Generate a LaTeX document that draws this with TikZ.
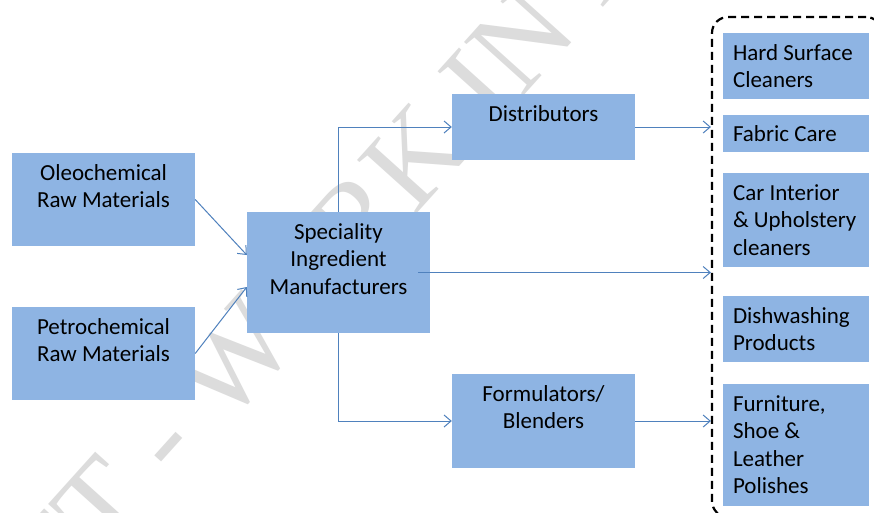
\documentclass[tikz,border=0pt]{standalone}
\usepackage{fontspec}
\setmainfont{Carlito}
\newfontfamily\wmfont{Liberation Serif}
\usetikzlibrary{arrows.meta}
\definecolor{boxfill}{HTML}{8EB4E3}
\definecolor{linkblue}{HTML}{4F81BD}
\definecolor{wmgray}{HTML}{DCDCDC}
\newcommand{\firststrut}{\rule{0pt}{20pt}}
\begin{document}
\begin{tikzpicture}[x=1pt,y=-1pt,
  bluebox/.style 2 args={fill=boxfill, draw=none, inner sep=0pt, minimum width=#1, minimum height=#2},
  lbl/.style={inner sep=0pt, font=\fontsize{23}{27.6}\selectfont, text=black},
  ctr/.style={lbl, align=center, anchor=north},
  lft/.style={lbl, align=left, anchor=north west},
  link/.style={draw=linkblue, line width=1pt, -{Straight Barb[length=7pt,width=12pt]}},
  wm/.style={inner sep=0pt, text=wmgray, font=\wmfont\fontsize{122}{130}\selectfont},
  grpbox/.style={draw=black, line width=2.2pt, dash pattern=on 8pt off 5pt, rounded corners=16pt, inner sep=0pt, minimum width=170pt, minimum height=500pt}
]
\useasboundingbox (0,0) rectangle (874,512);
\clip (0,0) rectangle (874,512);
\fill[white] (0,0) rectangle (874,512);

% watermark
\node[wm, rotate=48] (wmark) at (422,150) {DRAFT - WORK IN PROGRESS};

% boxes
\node[bluebox={183pt}{93pt}] (oleo) at (103.5,199.5) {};
\node[bluebox={183pt}{93pt}] (petro) at (103.5,353.5) {};
\node[bluebox={183pt}{121pt}] (spec) at (338.5,272.5) {};
\node[bluebox={183pt}{66pt}] (dist) at (543.5,127) {};
\node[bluebox={183pt}{94pt}] (form) at (543.5,421) {};
\node[bluebox={146pt}{66pt}] (hard) at (796,66) {};
\node[bluebox={146pt}{37pt}] (fab) at (796,133.5) {};
\node[bluebox={146pt}{94pt}] (car) at (796,220) {};
\node[bluebox={146pt}{66pt}] (dish) at (796,329) {};
\node[bluebox={146pt}{122pt}] (furn) at (796,445) {};

% texts
\node[ctr] (t-oleo) at ([yshift=-7pt]oleo.north) {\firststrut Oleochemical\\Raw Materials};
\node[ctr] (t-petro) at ([yshift=-7pt]petro.north) {\firststrut Petrochemical\\Raw Materials};
\node[ctr] (t-spec) at ([yshift=-7pt]spec.north) {\firststrut Speciality\\Ingredient\\Manufacturers};
\node[ctr] (t-dist) at ([yshift=-7pt]dist.north) {\firststrut Distributors};
\node[ctr] (t-form) at ([yshift=-7pt]form.north) {\firststrut Formulators/\\Blenders};
\node[lft] (t-hard) at ([xshift=10pt,yshift=-7pt]hard.north west) {\firststrut Hard Surface\\Cleaners};
\node[lft] (t-fab) at ([xshift=10pt,yshift=-6pt]fab.north west) {\firststrut Fabric Care};
\node[lft] (t-car) at ([xshift=10pt,yshift=-7pt]car.north west) {\firststrut Car Interior\\\&~Upholstery\\cleaners};
\node[lft] (t-dish) at ([xshift=10pt,yshift=-7pt]dish.north west) {\firststrut Dishwashing\\Products};
\node[lft] (t-furn) at ([xshift=10pt,yshift=-7pt]furn.north west) {\firststrut Furniture,\\Shoe \&\\Leather\\Polishes};

% group
\node[grpbox] (grp) at (797,267) {};

% connectors
\draw[link] (oleo.east) -- ([yshift=17.5pt]spec.west);
\draw[link] (petro.east) -- ([yshift=-14.5pt]spec.west);
\draw[link] (spec.north) |- (dist.west);
\draw[link] (spec.south) |- (form.west);
\draw[link] ([xshift=-12pt]spec.east) -- (spec.east -| grp.west);
\draw[link] (dist.east) -- (dist.east -| grp.west);
\draw[link] (form.east) -- (form.east -| grp.west);
\end{tikzpicture}
\end{document}
